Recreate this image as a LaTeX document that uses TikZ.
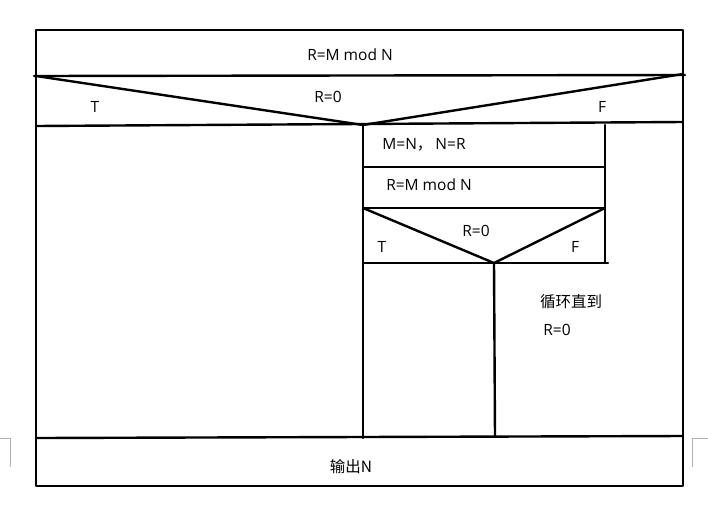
\documentclass[tikz,border=0pt]{standalone}
\usepackage{fontspec}
\setmainfont{Open Sans}
\newfontfamily\cjk{Noto Sans CJK SC}
\begin{document}
\begin{tikzpicture}[x=1pt,y=-1pt,
  ln/.style={line width=2.4pt,line cap=round,line join=round},
  lbl/.style={font=\fontsize{15.5}{18}\selectfont,inner sep=0pt},
  clbl/.style={font=\cjk\fontsize{15.5}{18}\selectfont,inner sep=0pt}]
\useasboundingbox (0,0) rectangle (708,509);
% outer box corners
\coordinate (tl) at (36,30);
\coordinate (tr) at (683,30);
\coordinate (bl) at (36,486);
\coordinate (br) at (683,486);
\coordinate (a1) at (34,76);
\coordinate (a2) at (685,75);
\coordinate (b1) at (36,126);
\coordinate (b2) at (683,122);
\coordinate (v) at (363,125);
\coordinate (c1) at (36,438);
\coordinate (c2) at (683,436);
% inner
\coordinate (ir) at (605,125);
\coordinate (i1l) at (363,167);
\coordinate (i1r) at (605,167);
\coordinate (i2l) at (363,208);
\coordinate (i2r) at (605,208);
\coordinate (i3l) at (363,263);
\coordinate (i3r) at (608,263);
\coordinate (iv) at (494,263);
\coordinate (lb) at (363,438);
\coordinate (mb) at (495,437);

\draw[ln] (tl) -- (tr) -- (br) -- (bl) -- cycle;
\draw[ln] (a1) -- (a2);
\draw[ln] (36,76) -- (v) -- (683,74);
\draw[ln] (b1) -- (b2);
\draw[ln] (c1) -- (c2);
\draw[ln] (v) -- (lb);
\draw[ln] (ir) -- (605,263);
\draw[ln] (i1l) -- (i1r);
\draw[ln] (i2l) -- (i2r);
\draw[ln] (i2l) -- (iv) -- (i2r);
\draw[ln] (i3l) -- (i3r);
\draw[ln] (iv) -- (mb);

% page corner marks
\draw[gray!60,line width=0.8pt] (0,438) -- (10,438) -- (10,467);
\draw[gray!60,line width=0.8pt] (708,438) -- (692,438) -- (692,467);

\node[lbl] (t1) at (350,55) {R=M mod N};
\node[lbl] (t2) at (328,97) {R=0};
\node[lbl] (t3) at (95,107) {T};
\node[lbl] (t4) at (602,107) {F};
\node[lbl] (t5) at (424,145) {M=N{\cjk，}\hspace{3pt}N=R};
\node[lbl] (t6) at (429,185) {R=M mod N};
\node[lbl] (t7) at (476,231) {R=0};
\node[lbl] (t8) at (382,247) {T};
\node[lbl] (t9) at (575,247) {F};
\node[clbl] (t10) at (571,302) {循环直到};
\node[lbl] (t11) at (557,330) {R=0};
\node[clbl] (t12) at (351,467) {输出N};
\end{tikzpicture}
\end{document}
